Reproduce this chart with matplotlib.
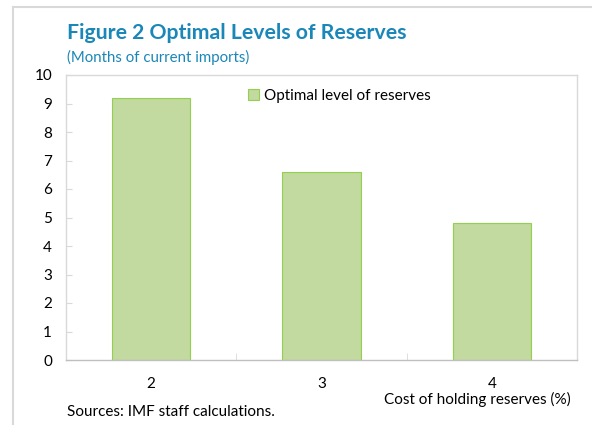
import matplotlib
matplotlib.use("Agg")
import matplotlib.pyplot as plt
from matplotlib.lines import Line2D
import numpy as np

categories = ["2", "3", "4"]
values = [9.2, 6.6, 4.8]
series_name = "Optimal level of reserves"
title = "Figure 2 Optimal Levels of Reserves"
subtitle = "(Months of current imports)"
xlabel = "Cost of holding reserves (%)"
source = "Sources: IMF staff calculations."

plt.rcParams['font.family'] = ['Lato', 'DejaVu Sans']

W, H = 592, 425
fig = plt.figure(figsize=(W / 100, H / 100), dpi=100)
fig.patch.set_facecolor('white')

def fx(px):
    return px / W

def fy(py):
    return 1 - py / H

AX_L, AX_R, AX_T, AX_B = 66, 577, 75, 360
ax = fig.add_axes([fx(AX_L), fy(AX_B), fx(AX_R) - fx(AX_L), fy(AX_T) - fy(AX_B)])
x = np.arange(len(categories))
ax.bar(x, values, width=0.46, color='#c2d99f', edgecolor='#92d050', linewidth=0.8,
       label=series_name, zorder=2)
ax.set_xlim(-0.5, len(categories) - 0.5)
ax.set_ylim(0, 10)
ax.set_yticks(range(0, 11))
ax.set_xticks(x)
ax.set_xticklabels(categories)
ax.set_xticks(np.arange(0.5, len(categories) - 0.5, 1), minor=True)

for side in ['top', 'right', 'left']:
    ax.spines[side].set_color('#d9d9d9')
    ax.spines[side].set_linewidth(1.0)
ax.spines['bottom'].set_color('#bfbfbf')
ax.spines['bottom'].set_linewidth(1.0)

ax.tick_params(axis='y', direction='in', length=4, color='#d9d9d9', labelsize=11,
               pad=10, labelcolor='black')
ax.tick_params(axis='x', which='major', length=0, labelsize=11, pad=12)
ax.tick_params(axis='x', which='minor', direction='in', length=5, color='#d9d9d9')

leg = ax.legend(loc='upper left',
                bbox_to_anchor=((248 - AX_L) / (AX_R - AX_L), 1 - (89 - AX_T) / (AX_B - AX_T)),
                bbox_transform=ax.transAxes, frameon=False, fontsize=11,
                handlelength=0.7, handleheight=0.7, handletextpad=0.35,
                borderpad=0, borderaxespad=0)

fig.text(fx(67), fy(33), title, fontsize=15.3, fontweight='bold', color='#1a87b8',
         ha='left', va='center')
fig.text(fx(67), fy(57), subtitle, fontsize=10.8, color='#1a87b8', ha='left', va='center')
fig.text(fx(571), fy(399), xlabel, fontsize=11, ha='right', va='center')
fig.text(fx(67), fy(412), source, fontsize=11, ha='left', va='center')

# outer frame lines
fig.add_artist(Line2D([fx(13), fx(13)], [fy(7), 0], color='#d9d9d9', linewidth=1.5))
fig.add_artist(Line2D([fx(13), 1], [fy(7), fy(7)], color='#d9d9d9', linewidth=1.5))

fig.savefig("out.png", dpi=100)
